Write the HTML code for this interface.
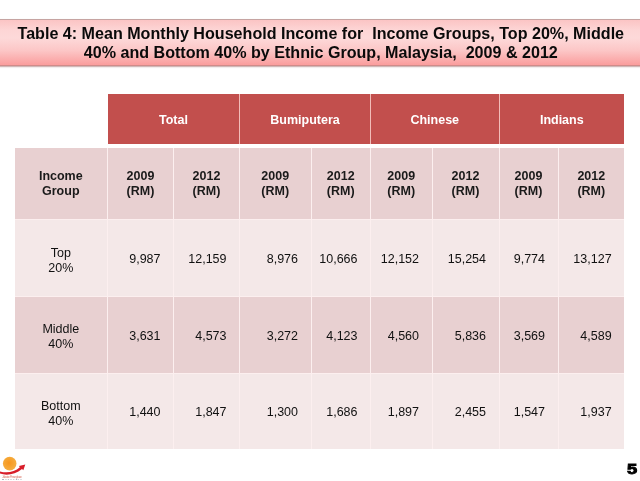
<!DOCTYPE html>
<html><head><meta charset="utf-8"><title>Table 4</title>
<style>
html,body{margin:0;padding:0;background:#fff;}
body{width:640px;height:481px;position:relative;overflow:hidden;font-family:"Liberation Sans",Arial,sans-serif;color:#111;}
.banner{position:absolute;left:-4px;top:19px;width:650px;height:46.8px;border:1.3px solid #c6a4a2;border-bottom-color:#cf8c8a;border-radius:4px;
 background:linear-gradient(to bottom,#fbc4c4 0%,#fdd5d5 22%,#fdd9d9 40%,#fcc6c6 68%,#fa9d9d 100%);
 box-shadow:0 1px 1.5px rgba(140,80,80,.5);box-sizing:border-box;}
.title{position:absolute;left:0;top:23.5px;width:641.6px;text-align:center;font-weight:bold;font-size:16.1px;line-height:19.4px;white-space:pre;color:#0a0a0a;}
.bg{position:absolute;}
.c{position:absolute;display:flex;align-items:center;justify-content:center;text-align:center;font-size:12.5px;line-height:15px;box-sizing:border-box;}
.h{background:#c24f4d;color:#fff;font-weight:bold;padding-top:2px;}
.s{background:#e8d0d1;font-weight:bold;color:#1a1a1a;padding-top:1px;}
.a{background:#f4e8e8;}
.b{background:#e8d0d1;}
.l{padding-top:5px;}
.l2{padding-top:3px;}
.n{justify-content:flex-end;padding-right:12.5px;padding-top:2px;}
.pg{position:absolute;left:626.6px;top:459.2px;font-family:"Liberation Sans",sans-serif;font-weight:bold;font-size:15px;line-height:20px;color:#000;transform:scaleX(1.22);transform-origin:left;-webkit-text-stroke:0.9px #000;}
</style></head><body>
<div class="banner"></div>
<div class="title">Table 4: Mean Monthly Household Income for  Income Groups, Top 20%, Middle
40% and Bottom 40% by Ethnic Group, Malaysia,  2009 &amp; 2012</div>

<div class="bg" style="left:108px;top:93.8px;width:516.1px;height:50.5px;background:#f2bcb8"></div>
<div class="bg" style="left:14.6px;top:148px;width:609.5px;height:300.5px;background:#fcefef"></div>
<div class="c h" style="left:108px;top:93.8px;width:131px;height:50.5px">Total</div>
<div class="c h" style="left:240px;top:93.8px;width:130px;height:50.5px">Bumiputera</div>
<div class="c h" style="left:371px;top:93.8px;width:127.5px;height:50.5px">Chinese</div>
<div class="c h" style="left:499.5px;top:93.8px;width:124.6px;height:50.5px">Indians</div>
<div class="c s" style="left:14.6px;top:148px;width:92.4px;height:71px">Income<br>Group</div>
<div class="c s" style="left:108px;top:148px;width:65px;height:71px">2009<br>(RM)</div>
<div class="c s" style="left:174px;top:148px;width:65px;height:71px">2012<br>(RM)</div>
<div class="c s" style="left:240px;top:148px;width:70.5px;height:71px">2009<br>(RM)</div>
<div class="c s" style="left:311.5px;top:148px;width:58.5px;height:71px">2012<br>(RM)</div>
<div class="c s" style="left:371px;top:148px;width:60.5px;height:71px">2009<br>(RM)</div>
<div class="c s" style="left:432.5px;top:148px;width:66px;height:71px">2012<br>(RM)</div>
<div class="c s" style="left:499.5px;top:148px;width:58px;height:71px">2009<br>(RM)</div>
<div class="c s" style="left:558.5px;top:148px;width:65.6px;height:71px">2012<br>(RM)</div>
<div class="c a l" style="left:14.6px;top:220px;width:92.4px;height:76px">Top<br>20%</div>
<div class="c a n" style="left:108px;top:220px;width:65px;height:76px">9,987</div>
<div class="c a n" style="left:174px;top:220px;width:65px;height:76px">12,159</div>
<div class="c a n" style="left:240px;top:220px;width:70.5px;height:76px">8,976</div>
<div class="c a n" style="left:311.5px;top:220px;width:58.5px;height:76px">10,666</div>
<div class="c a n" style="left:371px;top:220px;width:60.5px;height:76px">12,152</div>
<div class="c a n" style="left:432.5px;top:220px;width:66px;height:76px">15,254</div>
<div class="c a n" style="left:499.5px;top:220px;width:58px;height:76px">9,774</div>
<div class="c a n" style="left:558.5px;top:220px;width:65.6px;height:76px">13,127</div>
<div class="c b l2" style="left:14.6px;top:297px;width:92.4px;height:76px">Middle<br>40%</div>
<div class="c b n" style="left:108px;top:297px;width:65px;height:76px">3,631</div>
<div class="c b n" style="left:174px;top:297px;width:65px;height:76px">4,573</div>
<div class="c b n" style="left:240px;top:297px;width:70.5px;height:76px">3,272</div>
<div class="c b n" style="left:311.5px;top:297px;width:58.5px;height:76px">4,123</div>
<div class="c b n" style="left:371px;top:297px;width:60.5px;height:76px">4,560</div>
<div class="c b n" style="left:432.5px;top:297px;width:66px;height:76px">5,836</div>
<div class="c b n" style="left:499.5px;top:297px;width:58px;height:76px">3,569</div>
<div class="c b n" style="left:558.5px;top:297px;width:65.6px;height:76px">4,589</div>
<div class="c a l" style="left:14.6px;top:374px;width:92.4px;height:74.5px">Bottom<br>40%</div>
<div class="c a n" style="left:108px;top:374px;width:65px;height:74.5px">1,440</div>
<div class="c a n" style="left:174px;top:374px;width:65px;height:74.5px">1,847</div>
<div class="c a n" style="left:240px;top:374px;width:70.5px;height:74.5px">1,300</div>
<div class="c a n" style="left:311.5px;top:374px;width:58.5px;height:74.5px">1,686</div>
<div class="c a n" style="left:371px;top:374px;width:60.5px;height:74.5px">1,897</div>
<div class="c a n" style="left:432.5px;top:374px;width:66px;height:74.5px">2,455</div>
<div class="c a n" style="left:499.5px;top:374px;width:58px;height:74.5px">1,547</div>
<div class="c a n" style="left:558.5px;top:374px;width:65.6px;height:74.5px">1,937</div>
<svg style="position:absolute;left:0;top:452px" width="40" height="29" viewBox="0 0 40 29">
<defs><radialGradient id="g" cx="45%" cy="45%" r="60%"><stop offset="0" stop-color="#f7961c"/><stop offset="1" stop-color="#f5b045"/></radialGradient></defs>
<circle cx="9.7" cy="11.6" r="6.8" fill="url(#g)"/>
<path d="M0 19.4 C7 21.6 14.5 20 19.9 15.2 L18.9 14.1 L25.3 12.5 L23.3 18.3 L22 17 C15.5 22.6 6.5 23.8 0 21.6 Z" fill="#d81e2a"/>
<text x="2" y="26.0" font-family="Liberation Sans, sans-serif" font-size="3" fill="#dc7f72" textLength="20">Jabatan Perangkaan</text>
<text x="2" y="28.2" font-family="Liberation Sans, sans-serif" font-size="2.4" fill="#7a8290" textLength="20" font-weight="bold">M A L A Y S I A</text>
</svg>
<div class="pg">5</div>
</body></html>
